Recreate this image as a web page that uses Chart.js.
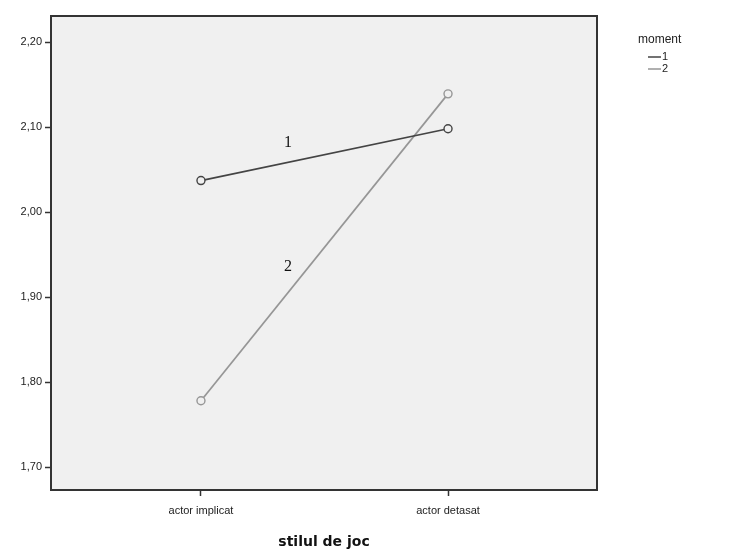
<!DOCTYPE html>
<html>
<head>
<meta charset="utf-8">
<script src="https://cdn.jsdelivr.net/npm/chart.js@4"></script>
<style>
  html, body { margin: 0; padding: 0; background: #fff; }
  #wrap { width: 730px; height: 551px; }
</style>
</head>
<body>
<div id="wrap"><canvas id="myChart" width="730" height="551"></canvas></div>
<script>
// data
const categories = ['actor implicat', 'actor detasat'];
const seriesNames = ['1', '2'];
const moment1 = [2.037, 2.098];
const moment2 = [1.778, 2.139];
const yTicks = [1.70, 1.80, 1.90, 2.00, 2.10, 2.20];
// in-plot line labels: [x (category units), y]
const lineLabels = [['1', 0.352, 2.081], ['2', 0.352, 1.936]];

const seriesColors = ['#444444', '#969696'];

const plotFrame = {
    id: 'plotFrame',
    beforeDatasetsDraw(chart) {
        const { ctx, chartArea: a } = chart;
        ctx.save();
        ctx.fillStyle = '#f0f0f0';
        ctx.fillRect(a.left, a.top, a.right - a.left, a.bottom - a.top);
        ctx.restore();
    },
    afterDatasetsDraw(chart) {
        const { ctx, chartArea: a, scales } = chart;
        ctx.save();
        ctx.strokeStyle = '#333';
        ctx.lineWidth = 2;
        ctx.strokeRect(a.left, a.top, a.right - a.left, a.bottom - a.top);

        // line labels
        ctx.fillStyle = '#111';
        ctx.font = '16px "Liberation Serif", "DejaVu Serif", serif';
        ctx.textAlign = 'center';
        ctx.textBaseline = 'middle';
        lineLabels.forEach(([t, x, y]) => {
            ctx.fillText(t, scales.x.getPixelForValue(x), scales.y.getPixelForValue(y));
        });

        // legend
        ctx.font = '12px "Liberation Sans", Arial, sans-serif';
        ctx.textAlign = 'left';
        ctx.fillStyle = '#222';
        ctx.fillText('moment', 638, 40);
        seriesNames.forEach((n, i) => {
            const y = 57 + i * 12;
            ctx.strokeStyle = seriesColors[i];
            ctx.lineWidth = 1.5;
            ctx.beginPath();
            ctx.moveTo(648, y);
            ctx.lineTo(661, y);
            ctx.stroke();
            ctx.font = '11px "Liberation Sans", Arial, sans-serif';
            ctx.fillText(n, 662, y);
        });
        ctx.restore();
    }
};

const ctx = document.getElementById('myChart').getContext('2d');
new Chart(ctx, {
    type: 'line',
    data: {
        datasets: [moment1, moment2].map((vals, i) => ({
            label: seriesNames[i],
            data: vals.map((v, j) => ({ x: j, y: v })),
            borderColor: seriesColors[i],
            borderWidth: 1.7,
            pointRadius: 4,
            pointBorderWidth: 1.4,
            pointBorderColor: seriesColors[i],
            pointBackgroundColor: '#f0f0f0',
            tension: 0
        }))
    },
    options: {
        responsive: false,
        animation: false,
        layout: { padding: { top: 16, right: 133, left: 0, bottom: 0 } },
        plugins: { legend: { display: false }, tooltip: { enabled: false } },
        scales: {
            x: {
                type: 'linear',
                min: -0.607,
                max: 1.603,
                afterBuildTicks: s => { s.ticks = categories.map((_, i) => ({ value: i })); },
                afterFit: s => { s.height = 61; },
                ticks: {
                    autoSkip: false,
                    maxRotation: 0,
                    padding: 8,
                    color: '#222',
                    font: { family: '"Liberation Sans", Arial, sans-serif', size: 11 },
                    callback: v => categories[v]
                },
                grid: { drawOnChartArea: false, tickLength: 6, color: '#333', tickWidth: 1.5 },
                border: { display: false },
                title: {
                    display: true,
                    text: 'stilul de joc',
                    color: '#111',
                    padding: { top: 14, bottom: 0 },
                    font: { family: '"DejaVu Sans", Verdana, sans-serif', size: 14, weight: 'bold' }
                }
            },
            y: {
                min: 1.673,
                max: 2.2306,
                afterBuildTicks: s => { s.ticks = yTicks.map(v => ({ value: v })); },
                afterFit: s => { s.width = 51; },
                ticks: {
                    padding: 3,
                    color: '#222',
                    font: { family: '"Liberation Sans", Arial, sans-serif', size: 11 },
                    callback: v => v.toFixed(2).replace('.', ',')
                },
                grid: { drawOnChartArea: false, tickLength: 6, color: '#333', tickWidth: 1.5 },
                border: { display: false }
            }
        }
    },
    plugins: [plotFrame]
});
</script>
</body>
</html>
